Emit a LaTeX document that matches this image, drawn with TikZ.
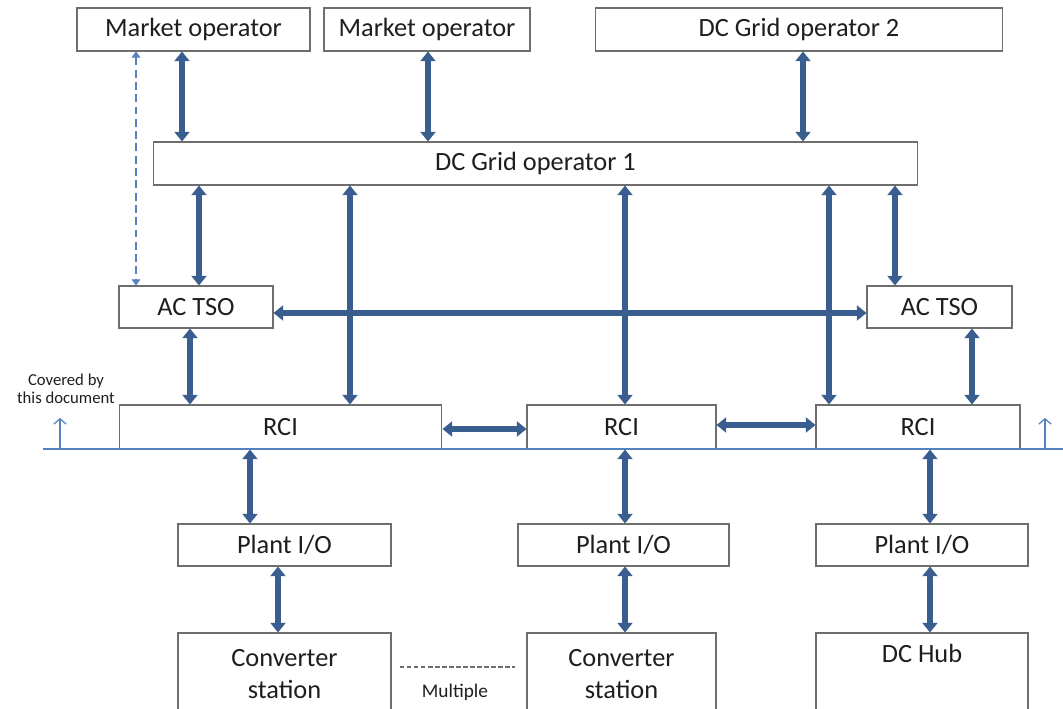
\documentclass[tikz,border=0pt]{standalone}
\usepackage{fontspec}
\setmainfont{Carlito}
\usepackage{tikz}
\usetikzlibrary{arrows.meta}
\definecolor{linkblue}{RGB}{59,94,145}
\definecolor{thinblue}{RGB}{84,130,190}
\definecolor{boxgray}{RGB}{110,110,110}
\definecolor{txt}{RGB}{30,30,30}
\tikzset{box/.style={draw=boxgray, line width=0.6pt, fill=white, inner sep=0pt,
    text=txt, font=\fontsize{15}{18}\selectfont, align=center}}
\tikzset{link/.style={linkblue, line width=3.1pt,
    {Triangle[length=5.5pt,width=8.5pt]}-{Triangle[length=5.5pt,width=8.5pt]}}}
\tikzset{thinlink/.style={thinblue, line width=0.7pt}}

\begin{document}
\begin{tikzpicture}[x=0.02cm, y=-0.02cm]
      \useasboundingbox (0,0) rectangle (1063,709);

      % operators
      \node [box, minimum width=4.66cm, minimum height=0.86cm] (mo1) at (193.5,29.5) {Market operator};
      \node [box, minimum width=4.12cm, minimum height=0.86cm] (mo2) at (427,29.5) {Market operator};
      \node [box, minimum width=8.16cm, minimum height=0.86cm] (dcg2) at (799,29.5) {DC Grid operator 2};
      \node [box, minimum width=15.3cm, minimum height=0.86cm] (dcg1) at (535.5,163.5) {DC Grid operator 1};
      \node [box, minimum width=3.08cm, minimum height=0.84cm] (tso1) at (196,307) {AC TSO};
      \node [box, minimum width=2.9cm, minimum height=0.84cm] (tso2) at (939.5,307) {AC TSO};

      % RCI row
      \node [box, minimum width=6.46cm, minimum height=0.88cm] (rci1) at (280.5,427) {RCI};
      \node [box, minimum width=3.78cm, minimum height=0.88cm] (rci2) at (621.5,427) {RCI};
      \node [box, minimum width=4.08cm, minimum height=0.88cm] (rci3) at (918,427) {RCI};

      % plant side
      \node [box, minimum width=4.26cm, minimum height=0.84cm] (pio1) at (284.5,545) {Plant I/O};
      \node [box, minimum width=4.22cm, minimum height=0.84cm] (pio2) at (623.5,545) {Plant I/O};
      \node [box, minimum width=4.24cm, minimum height=0.84cm] (pio3) at (922,545) {Plant I/O};
      \node [box, minimum width=4.26cm, minimum height=1.64cm] (cs1) at (284.5,674) {Converter\\station};
      \node [box, minimum width=3.78cm, minimum height=1.64cm] (cs2) at (621.5,674) {Converter\\station};
      \node [box, minimum width=4.24cm, minimum height=1.64cm] (hub) at (922,674) {DC Hub\\\strut};

      \draw [link] (182,0 |- mo1.south) -- (182,0 |- dcg1.north);
      \draw [link] (428,0 |- mo2.south) -- (428,0 |- dcg1.north);
      \draw [link] (803,0 |- dcg2.south) -- (803,0 |- dcg1.north);
      \draw [thinlink, dash pattern=on 4.5pt off 2.5pt,
        {Triangle[length=3.5pt,width=5pt]}-{Triangle[length=3.5pt,width=5pt]}]
        (136,0 |- mo1.south) -- (136,0 |- tso1.north);

      \draw [link] (199,0 |- dcg1.south) -- (199,0 |- tso1.north);
      \draw [link] (350,0 |- dcg1.south) -- (350,0 |- rci1.north);
      \draw [link] (625,0 |- dcg1.south) -- (625,0 |- rci2.north);
      \draw [link] (829,0 |- dcg1.south) -- (829,0 |- rci3.north);
      \draw [link] (895,0 |- dcg1.south) -- (895,0 |- tso2.north);
      \draw [link] (tso1.east |- 0,313) -- (tso2.west |- 0,313);
      \draw [link] (190,0 |- tso1.south) -- (190,0 |- rci1.north);
      \draw [link] (972,0 |- tso2.south) -- (972,0 |- rci3.north);

      \draw [link] (rci1.east |- 0,429) -- (rci2.west |- 0,429);
      \draw [link] (rci2.east |- 0,425) -- (rci3.west |- 0,425);

      \draw [link] (250,0 |- rci1.south) -- (250,0 |- pio1.north);
      \draw [link] (625,0 |- rci2.south) -- (625,0 |- pio2.north);
      \draw [link] (930,0 |- rci3.south) -- (930,0 |- pio3.north);
      \draw [link] (278,0 |- pio1.south) -- (278,0 |- cs1.north);
      \draw [link] (625,0 |- pio2.south) -- (625,0 |- cs2.north);
      \draw [link] (930,0 |- pio3.south) -- (930,0 |- hub.north);

      % scope line
      \coordinate (lineL) at (43,449);
      \coordinate (lineR) at (1063,449);
      \coordinate (upL) at (60,418);
      \coordinate (upR) at (1045,418);
      \draw [thinlink] (lineL) -- (lineR);
      \draw [thinlink, -{Straight Barb[length=3pt,width=7pt]}] (lineL -| upL) -- (upL);
      \draw [thinlink, -{Straight Barb[length=3pt,width=7pt]}] (lineL -| upR) -- (upR);
      \node [text=txt, align=center, font=\fontsize{9.5}{10.5}\selectfont] (cov) at (66,389) {Covered by\\this document};

      \coordinate (multL) at (400,667);
      \coordinate (multR) at (515,667);
      \draw [boxgray, line width=0.6pt, dash pattern=on 2.5pt off 1.5pt] (multL) -- (multR);
      \node [text=txt, font=\fontsize{11}{13}\selectfont] (mult) at (455,692) {Multiple};
    \end{tikzpicture}
\end{document}
